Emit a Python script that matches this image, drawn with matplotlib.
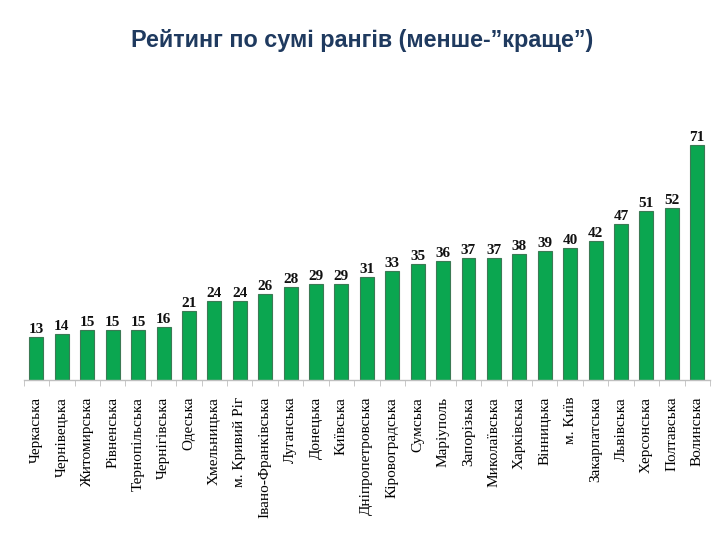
import matplotlib.pyplot as plt
import numpy as np

regions = ["Черкаська", "Чернівецька", "Житомирська", "Рівненська", "Тернопільська",
           "Чернігівська", "Одеська", "Хмельницька", "м. Кривий Ріг", "Івано-Франківська",
           "Луганська", "Донецька", "Київська", "Дніпропетровська", "Кіровоградська",
           "Сумська", "Маріуполь", "Запорізька", "Миколаївська", "Харківська",
           "Вінницька", "м. Київ", "Закарпатська", "Львівська", "Херсонська",
           "Полтавська", "Волинська"]
scores = [13, 14, 15, 15, 15, 16, 21, 24, 24, 26, 28, 29, 29, 31, 33, 35, 36, 37, 37,
          38, 39, 40, 42, 47, 51, 52, 71]

fig = plt.figure(figsize=(7.2, 5.4), dpi=100)
ax = fig.add_axes([0.033, 0.296, 0.953, 0.491])

x = np.arange(len(regions))
bars = ax.bar(x, scores, width=0.55, color="#0BA650", edgecolor="#3C7A55", linewidth=0.8)

for xi, v in zip(x, scores):
    ax.text(xi, v + 0.3, str(v), ha="center", va="bottom", fontsize=11,
            family="Liberation Serif", fontweight="bold", color="#111111")

ax.set_xlim(-0.5, len(regions) - 0.5)
ax.set_ylim(0, 80)
ax.set_yticks([])
for s in ["top", "right", "left"]:
    ax.spines[s].set_visible(False)
ax.spines["bottom"].set_color("#BFBFBF")
ax.spines["bottom"].set_linewidth(1.0)

ax.set_xticks(x)
ax.set_xticklabels(regions, rotation=90, family="Liberation Serif", fontsize=11)
ax.tick_params(axis="x", length=0, pad=12)
ax.set_xticks(np.arange(-0.5, len(regions), 1), minor=True)
ax.tick_params(axis="x", which="minor", length=4, color="#BFBFBF", direction="out")

fig.text(0.503, 0.925, "Рейтинг по сумі рангів (менше-”краще”)", ha="center", va="center",
         fontsize=16.8, fontweight="bold", color="#1F3A5F", family="Liberation Sans")

fig.savefig("out.png", dpi=100)
